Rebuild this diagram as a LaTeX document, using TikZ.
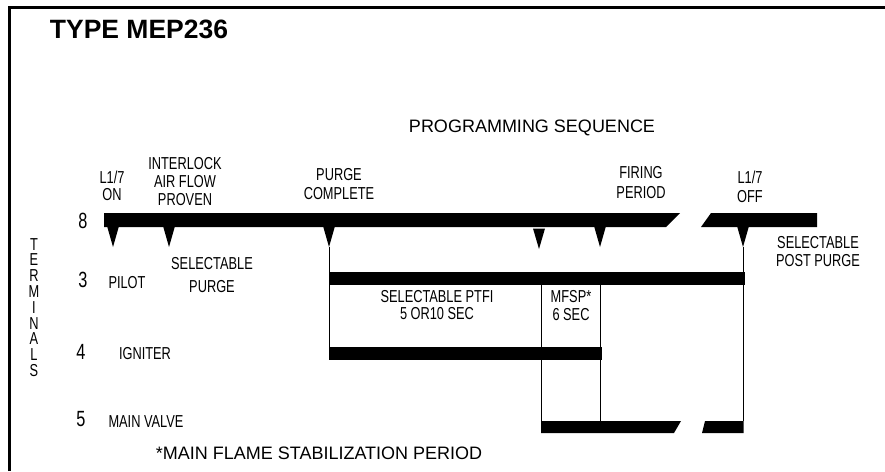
\documentclass[tikz,border=0pt]{standalone}
\usepackage{fontspec}
\setmainfont{Liberation Sans}
\newfontfamily\condfont[FakeStretch=0.74]{Liberation Sans}
\usetikzlibrary{positioning}
\tikzset{
  bar/.style={fill=black},
  wire/.style={line width=1pt},
  lbl/.style={font=\condfont\fontsize{17.3}{19}\selectfont, inner sep=0pt, anchor=base},
  num/.style={font=\condfont\fontsize{22}{24}\selectfont, inner sep=0pt, anchor=base},
  head/.style={font=\fontsize{18}{20}\selectfont, inner sep=0pt, anchor=base}
}

\begin{document}
\begin{tikzpicture}[x=1pt,y=-1pt]
   		\useasboundingbox (0,0) rectangle (885,471);
   		\draw[line width=3pt] (9,471) -- (9,7.5) -- (885,7.5); % frame left and top
   		\node[inner sep=0pt, anchor=base, font=\bfseries\fontsize{26.5}{30}\selectfont] (title) at (139,38) {TYPE MEP236}; % title
   		\node[head] (seq) at (532,132) {PROGRAMMING SEQUENCE};
   		% labels above terminal 8
   		\node[lbl] (on1) at (112,183) {L1/7};
   		\node[lbl] (on2) at (112,200) {ON};
   		\node[lbl] (ilk1) at (185,169) {INTERLOCK};
   		\node[lbl] (ilk2) at (185,187) {AIR FLOW};
   		\node[lbl] (ilk3) at (185,205) {PROVEN};
   		\node[lbl] (pc1) at (339,180) {PURGE};
   		\node[lbl] (pc2) at (339,199) {COMPLETE};
   		\node[lbl] (fp1) at (641,178) {FIRING};
   		\node[lbl] (fp2) at (641,198) {PERIOD};
   		\node[lbl] (off1) at (750,183) {L1/7};
   		\node[lbl] (off2) at (750,202) {OFF};
   		% terminals
   		\foreach \c [count=\i] in {T,E,R,M,I,N,A,L,S} { \node[lbl] (term\i) at (34,{250+15.8*(\i-1)}) {\c}; }
   		\node[num] (t8) at (83,228) {8};
   		\node[num] (t3) at (83,287) {3};
   		\node[num] (t4) at (81,359) {4};
   		\node[num] (t5) at (81,426) {5};
   		\node[lbl] (pilot) at (127,288) {PILOT};
   		\node[lbl] (sp1) at (212,269) {SELECTABLE};
   		\node[lbl] (sp2) at (212,292) {PURGE};
   		\node[lbl] (ign) at (145,359) {IGNITER};
   		\node[lbl] (mv) at (146,427) {MAIN VALVE};
   		\node[lbl] (pt1) at (437,302.5) {SELECTABLE PTFI};
   		\node[lbl] (pt2) at (437,319) {5 OR10 SEC};
   		\node[lbl] (mf1) at (571,302) {MFSP*};
   		\node[lbl] (mf2) at (571,320.5) {6 SEC};
   		\node[lbl] (pp1) at (818,248) {SELECTABLE};
   		\node[lbl] (pp2) at (818,266) {POST PURGE};
   		\node[head] (note) at (319,459) {*MAIN FLAME STABILIZATION PERIOD}; % footnote
   		% bars
   		\fill[bar] (104,213) -- (680,213) -- (666,227) -- (104,227) -- cycle; % terminal 8 before break
   		\fill[bar] (711,213) -- (817,213) -- (817,227) -- (701,227) -- cycle; % terminal 8 after break
   		\fill[bar] (329,272) rectangle (745,285); % terminal 3
   		\fill[bar] (329,347) rectangle (602,360); % terminal 4
   		\fill[bar] (541,421) -- (681,421) -- (674,433) -- (541,433) -- cycle; % terminal 5 before break
   		\fill[bar] (705,421) -- (743.5,421) -- (743.5,433) -- (702,433) -- cycle; % terminal 5 after break
   		% event marks
   		\foreach \x in {113,169,329,600,743} { \fill ({\x-6},226) -- ({\x+6},226) -- (\x,247) -- cycle; }
   		\fill (533,228.5) -- (545,228.5) -- (539,249) -- cycle;
   		% timing lines
   		\coordinate (pcTip) at (329,247);
   		\coordinate (offTip) at (743,247);
   		\draw[wire] (pcTip) -- (329,347);
   		\draw[wire] (541.5,285) -- (541.5,421);
   		\draw[wire] (600,285) -- (600,421);
   		\draw[wire] (offTip) -- (743,421);
\end{tikzpicture}
\end{document}
